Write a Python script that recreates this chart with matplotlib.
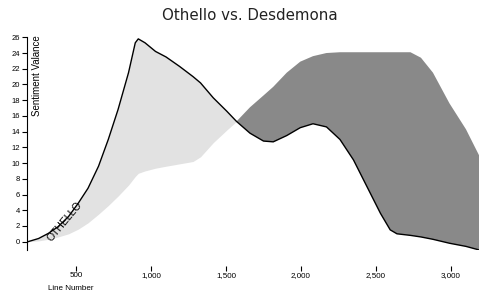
import numpy as np
import matplotlib
matplotlib.use('Agg')
import matplotlib.pyplot as plt


line_no = [180, 250, 315, 380, 450, 515, 580, 650, 715, 780, 850, 895, 915,
           960, 1030, 1100, 1190, 1280, 1330, 1415, 1505, 1570, 1660, 1750,
           1815, 1905, 1995, 2080, 2170, 2260, 2350, 2440, 2530, 2595, 2640,
           2730, 2800, 2880, 2990, 3100, 3187]

othello = [0.0, 0.4, 1.05, 1.9, 3.2, 4.9, 6.8, 9.6, 13.0, 16.8, 21.5, 25.3,
           25.8, 25.3, 24.2, 23.5, 22.3, 21.0, 20.2, 18.3, 16.6, 15.3, 13.8,
           12.8, 12.7, 13.5, 14.5, 15.0, 14.6, 13.0, 10.4, 7.0, 3.6, 1.5,
           1.0, 0.8, 0.6, 0.3, -0.2, -0.6, -1.05]

desdemona = [0.0, 0.1, 0.3, 0.6, 1.0, 1.6, 2.4, 3.5, 4.6, 5.8, 7.2, 8.3,
             8.7, 9.0, 9.35, 9.6, 9.9, 10.2, 10.8, 12.6, 14.2, 15.3, 17.1,
             18.6, 19.7, 21.5, 22.9, 23.6, 24.0, 24.1, 24.1, 24.1, 24.1,
             24.1, 24.1, 24.1, 23.4, 21.5, 17.6, 14.3, 11.0]

y_ticks = list(range(0, 27, 2))
x_ticks = [500, 1000, 1500, 2000, 2500, 3000]
x_labels = ['500', '1,000', '1,500', '2,000', '2,500', '3,000']

xs = np.array(line_no)
o = np.array(othello)
d = np.array(desdemona)

fig = plt.figure(figsize=(4.79, 2.93), dpi=100)
ax = fig.add_axes([27 / 479, 43 / 293, 452 / 479, 212.7 / 293])

ax.fill_between(xs, o, d, where=o >= d, interpolate=True,
                color='#e2e2e2', linewidth=0)
ax.fill_between(xs, o, d, where=d >= o, interpolate=True,
                color='#898989', linewidth=0)
ax.plot(xs, o, color='black', lw=1.0)

ax.set_xlim(173, 3187)
ax.set_ylim(-1.06, 26)

for s in ['top', 'right']:
    ax.spines[s].set_visible(False)
# x ticks float below the plot with no axis line
ax.spines['bottom'].set_position(('outward', 11.5))
ax.spines['bottom'].set_visible(False)
ax.spines['left'].set_linewidth(0.8)

tick_font = 'Liberation Sans'
ax.set_yticks(y_ticks)
ax.set_yticklabels([str(v) for v in y_ticks], fontsize=5.5, family=tick_font)
ax.set_xticks(x_ticks)
ax.set_xticklabels(x_labels, fontsize=5.8, family=tick_font)
ax.tick_params(axis='y', length=3.6, width=0.8, pad=1.5)
ax.tick_params(axis='x', length=3.6, width=0.8, pad=1)

ax.text(0.023, 1.01, 'Sentiment Valance', transform=ax.transAxes,
        rotation=90, ha='center', va='top', fontsize=7, family=tick_font)
ax.text(427, 2.6, 'OTHELLO', rotation=50, ha='center', va='center',
        fontsize=7.5, family=tick_font)

fig.text(71 / 479, 1 - 288 / 293, 'Line Number', ha='center', va='center',
         fontsize=5.8, family=tick_font)
fig.text(250 / 479, 1 - 15 / 293, 'Othello vs. Desdemona', ha='center',
         va='center', fontsize=10.8, color='#222222')

fig.savefig('out.png', dpi=100)
